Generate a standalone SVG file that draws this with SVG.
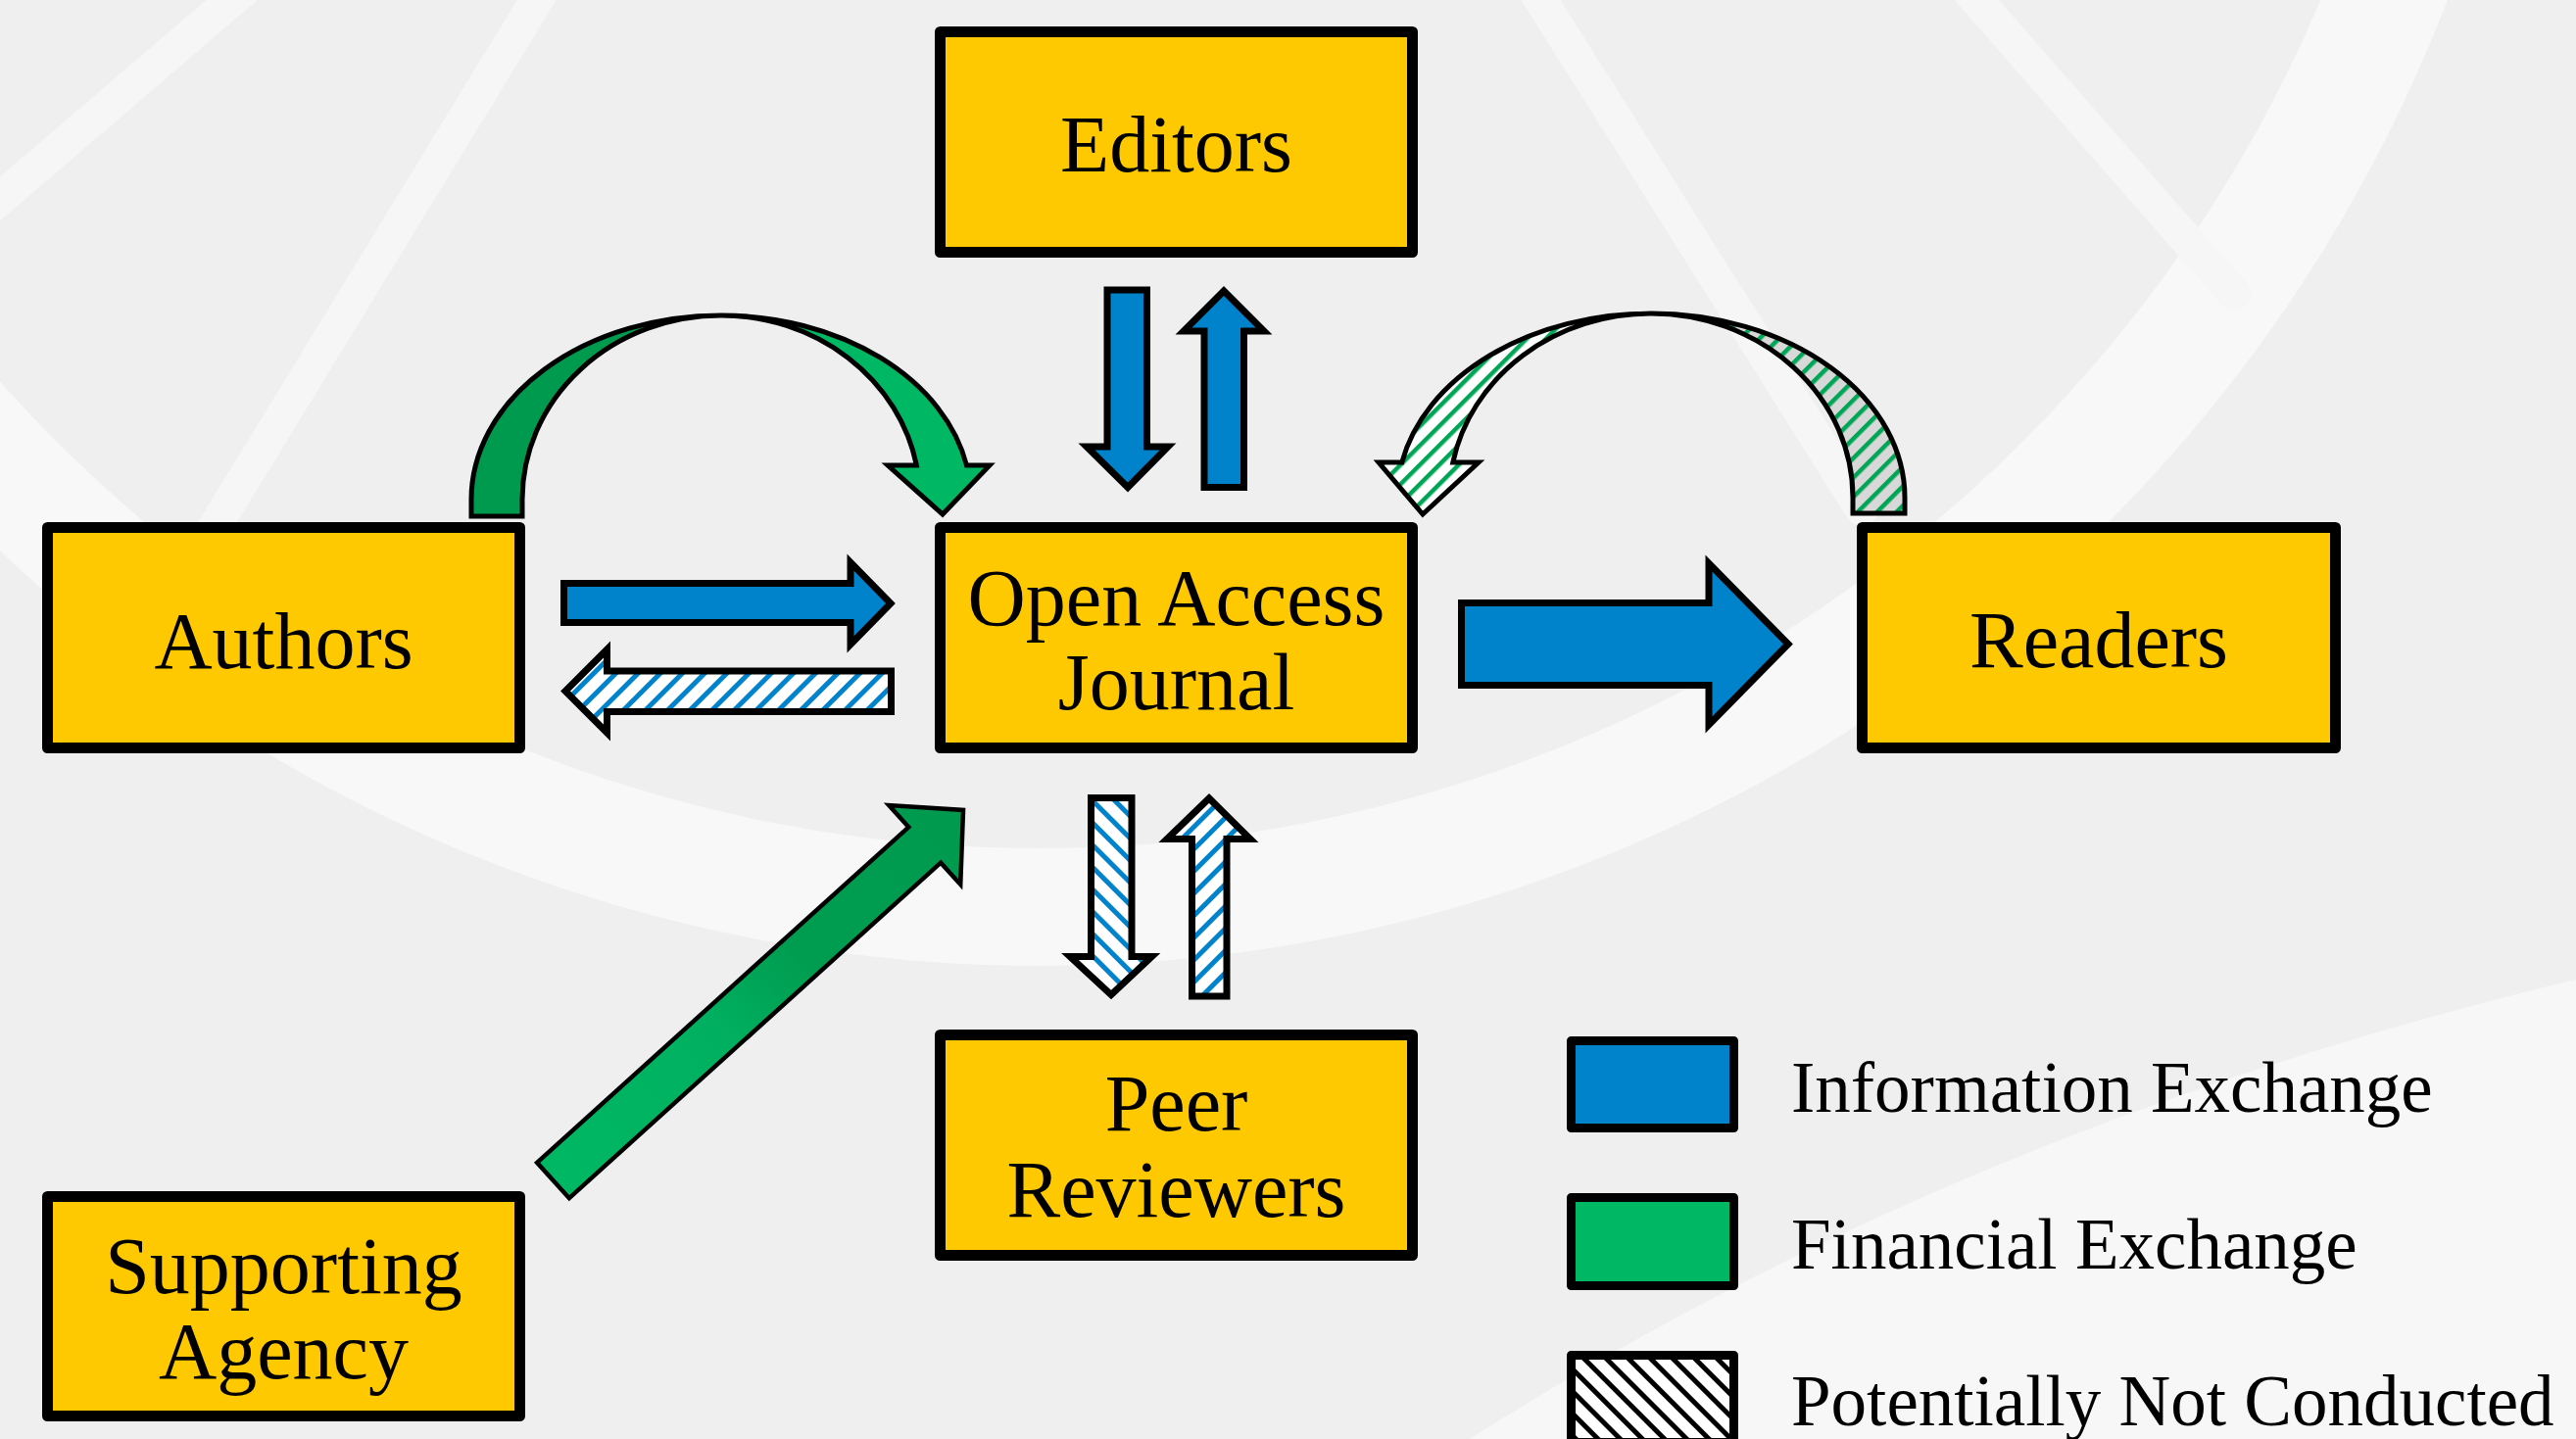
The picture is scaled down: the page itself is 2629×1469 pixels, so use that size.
<svg xmlns="http://www.w3.org/2000/svg" width="2629" height="1469" viewBox="0 0 2629 1469">
  <style>
    .box { fill: #FFC900; stroke: #000; stroke-width: 11; stroke-linejoin: round; }
    .lbl { font-family: "Liberation Serif", "Times New Roman", serif; font-size: 82px; fill: #000; text-anchor: middle; }
    .leg { font-family: "Liberation Serif", "Times New Roman", serif; font-size: 73px; fill: #000; }
    .arr { stroke: #000; stroke-width: 7; stroke-linejoin: miter; stroke-miterlimit: 10; }
    .curve { stroke: #000; stroke-width: 5; stroke-linejoin: miter; stroke-miterlimit: 10; }
    .blue { fill: #0083CB; }
    .lgreen { fill: #00B863; }
    .dgreen { fill: #009A4E; }
    .legbox { stroke: #000; stroke-width: 9; stroke-linejoin: round; }
  </style>
  <defs>
    <pattern id="hBlueF" patternUnits="userSpaceOnUse" width="16" height="16" patternTransform="rotate(45)">
      <rect x="0" y="0" width="16" height="16" fill="#fff"/>
      <rect x="0" y="0" width="5" height="16" fill="#0083CB"/>
    </pattern>
    <pattern id="hBlueB" patternUnits="userSpaceOnUse" width="16" height="16" patternTransform="rotate(-45)">
      <rect x="0" y="0" width="16" height="16" fill="#fff"/>
      <rect x="0" y="0" width="5" height="16" fill="#0083CB"/>
    </pattern>
    <pattern id="hGreen" patternUnits="userSpaceOnUse" width="14" height="14" patternTransform="rotate(45)">
      <rect x="0" y="0" width="4.5" height="14" fill="#00A555"/>
    </pattern>
    <pattern id="hBlack" patternUnits="userSpaceOnUse" width="16" height="16" patternTransform="rotate(-45)">
      <rect x="0" y="0" width="16" height="16" fill="#fff"/>
      <rect x="0" y="0" width="5" height="16" fill="#000"/>
    </pattern>
    <linearGradient id="gSupport" gradientUnits="userSpaceOnUse" x1="0" y1="0" x2="564" y2="0">
      <stop offset="0" stop-color="#00B863"/>
      <stop offset="0.4" stop-color="#00B060"/>
      <stop offset="0.6" stop-color="#009D50"/>
      <stop offset="1" stop-color="#009A4E"/>
    </linearGradient>
  </defs>

  <g id="background">
    <rect x="0" y="0" width="2629" height="1469" fill="#efefef"/>
    <circle cx="1061" cy="-554" r="1480" fill="none" stroke="#f8f8f8" stroke-width="120"/>
    <path d="M1500,1469 Q2000,1150 2629,1000 L2629,1469 Z" fill="#f7f7f7"/>
    <g stroke="#f6f6f6" stroke-width="34" fill="none" stroke-linecap="round">
      <line x1="260" y1="-20" x2="-20" y2="220"/>
      <line x1="560" y1="-20" x2="120" y2="700"/>
      <line x1="2000" y1="-20" x2="2280" y2="300"/>
      <line x1="1560" y1="-20" x2="1900" y2="520"/>
    </g>
  </g>

  <g id="connectors">
    <g id="conn-authors-oaj-financial">
      <path class="curve dgreen" d="M481,527 L481,510 A255,188 0 0 1 736,322 A203,188 0 0 0 533,510 L533,527 Z"/>
      <path class="curve lgreen" d="M736,322 A255,188 0 0 1 986.5,475 L1010,475 L962,525 L906,475 L935.4,475 A203,188 0 0 0 736,322 Z"/>
    </g>
    <g id="conn-readers-oaj-financial">
      <path d="M1944,524 L1944,508 A259,188 0 0 0 1685,320 A206,188 0 0 1 1891,508 L1891,524 Z" fill="#d8d8d8"/>
      <path class="curve" d="M1944,524 L1944,508 A259,188 0 0 0 1685,320 A206,188 0 0 1 1891,508 L1891,524 Z" fill="url(#hGreen)"/>
      <path d="M1685,320 A259,188 0 0 0 1430.8,472 L1407,472 L1452,525 L1509,472 L1482.8,472 A206,188 0 0 1 1685,320 Z" fill="#fff"/>
      <path class="curve" d="M1685,320 A259,188 0 0 0 1430.8,472 L1407,472 L1452,525 L1509,472 L1482.8,472 A206,188 0 0 1 1685,320 Z" fill="url(#hGreen)"/>
    </g>
    <polygon id="conn-editors-oaj" class="arr blue" points="1130,296 1170.5,296 1170.5,456 1192,456 1151,497.5 1109,456 1130,456"/>
    <polygon id="conn-oaj-editors" class="arr blue" points="1229,497.5 1269.5,497.5 1269.5,338 1290,338 1249,297 1208,338 1229,338"/>
    <polygon id="conn-authors-oaj" class="arr blue" points="575.5,595.5 868,595.5 868,574 909,616 868,658 868,635.5 575.5,635.5"/>
    <polygon id="conn-oaj-authors" class="arr" fill="url(#hBlueF)" points="909.5,685 619.5,685 619.5,663 577,705.5 619.5,748 619.5,726.5 909.5,726.5"/>
    <polygon id="conn-oaj-readers" class="arr blue" points="1491.5,615.5 1744,615.5 1744,575 1825,657.5 1744,740 1744,699.5 1491.5,699.5"/>
    <polygon id="conn-oaj-peer" class="arr" fill="url(#hBlueB)" points="1113.5,814.5 1155,814.5 1155,976.5 1175.5,976.5 1134,1015.5 1092,976.5 1113.5,976.5"/>
    <polygon id="conn-peer-oaj" class="arr" fill="url(#hBlueF)" points="1216.5,1017 1252,1017 1252,856.5 1276,856.5 1234,815 1191,856.5 1216.5,856.5"/>
    <g id="conn-support-oaj" transform="translate(564.5,1205) rotate(-42.09)">
      <polygon points="0,-24.5 511,-24.5 511,-54.5 564,0 511,54.5 511,24.5 0,24.5" fill="url(#gSupport)" stroke="#000" stroke-width="4.5" stroke-linejoin="miter"/>
    </g>
  </g>

  <g id="node-editors">
    <rect class="box" x="959.5" y="32.5" width="482" height="225"/>
    <text class="lbl" x="1200.5" y="175">Editors</text>
  </g>
  <g id="node-oaj">
    <rect class="box" x="959.5" y="538.5" width="482" height="225"/>
    <text class="lbl" x="1200.5" y="638">Open Access</text>
    <text class="lbl" x="1200.5" y="724">Journal</text>
  </g>
  <g id="node-authors">
    <rect class="box" x="48.5" y="538.5" width="482" height="225"/>
    <text class="lbl" x="289.5" y="682">Authors</text>
  </g>
  <g id="node-readers">
    <rect class="box" x="1900.5" y="538.5" width="483" height="225"/>
    <text class="lbl" x="2142" y="681">Readers</text>
  </g>
  <g id="node-peer">
    <rect class="box" x="959.5" y="1056.5" width="482" height="225"/>
    <text class="lbl" x="1200.5" y="1153.5">Peer</text>
    <text class="lbl" x="1200.5" y="1242">Reviewers</text>
  </g>
  <g id="node-support">
    <rect class="box" x="48.5" y="1221.5" width="482" height="224"/>
    <text class="lbl" x="289.5" y="1319.5">Supporting</text>
    <text class="lbl" x="289.5" y="1406.5">Agency</text>
  </g>

  <g id="legend">
    <g id="legend-info">
      <rect class="legbox" x="1603.5" y="1062.5" width="166" height="89" fill="#0083CB"/>
      <text class="leg" x="1828" y="1135">Information Exchange</text>
    </g>
    <g id="legend-fin">
      <rect class="legbox" x="1603.5" y="1222.5" width="166" height="90" fill="#00B863"/>
      <text class="leg" x="1828" y="1295">Financial Exchange</text>
    </g>
    <g id="legend-pnc">
      <rect class="legbox" x="1603.5" y="1383.5" width="166" height="89" fill="url(#hBlack)"/>
      <text class="leg" x="1828" y="1455">Potentially Not Conducted</text>
    </g>
  </g>
</svg>
